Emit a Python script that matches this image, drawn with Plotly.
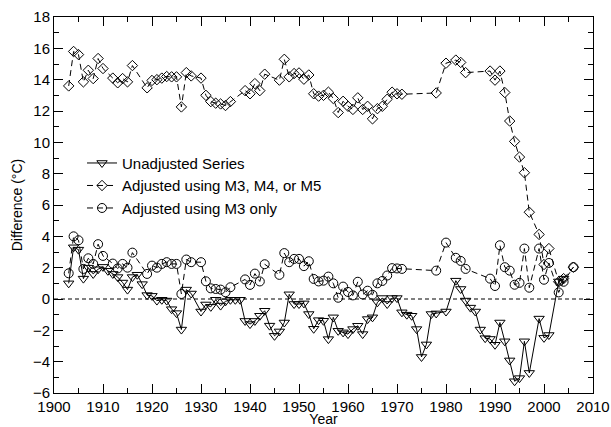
import plotly.graph_objects as go

# Unadjusted series
unadj_year = [1903, 1904, 1905, 1906, 1907, 1908, 1909, 1910, 1911, 1912, 1913, 1914, 1915,
              1916, 1917, 1918, 1919, 1920, 1921, 1922, 1923, 1924, 1925, 1926, 1927, 1928,
              1930, 1931, 1932, 1933, 1934, 1935, 1936, 1937, 1938, 1939, 1940, 1941, 1942,
              1943, 1944, 1945, 1946, 1947, 1948, 1949, 1950, 1951, 1952, 1953, 1954, 1955,
              1956, 1957, 1958, 1959, 1960, 1961, 1962, 1963, 1964, 1965, 1966, 1967, 1968,
              1969, 1970, 1971, 1972, 1973, 1974, 1975, 1976, 1977, 1978, 1980, 1982, 1983,
              1984, 1985, 1986, 1987, 1988, 1989, 1990, 1991, 1992, 1993, 1994, 1995, 1996,
              1997, 1999, 2000, 2001, 2003, 2004]
unadj_val = [1.0, 3.3, 3.15, 1.3, 2.0, 1.6, 1.9, 2.05, 1.8, 1.6, 1.4, 1.05, 0.6,
             1.4, 1.55, 0.95, 0.25, 0.2, -0.1, -0.05, -0.1, -0.65, -0.9, -1.95, 0.6, 0.35,
             -0.8, -0.35, -0.5, -0.05, -0.42, -0.15, -0.05, -0.05, -0.05, -1.4, -1.6, -1.4, -1.07,
             -0.75, -1.7, -2.35, -2.07, -1.5, 0.3, -0.32, -0.32, -0.28, -0.96, -1.9, -1.35, -1.39,
             -2.56, -1.17, -2.03, -2.13, -2.24, -1.92, -1.71, -2.24, -1.28, -1.17, -0.21, 0.06, -0.32,
             0.06, 0.06, -0.85, -1.0, -1.07, -1.92, -3.7, -2.9, -0.96, -0.92, -0.8, 1.17, 0.64,
             -0.1, -0.55, -0.8, -1.95, -2.5, -2.55, -2.92, -1.5, -2.7, -3.92, -5.25, -5.05, -2.7,
             -4.72, -1.25, -2.48, -2.3, 1.12, 1.3]

# Adjusted series (both adjustments share the same years)
adj_year = [1903, 1904, 1905, 1906, 1907, 1908, 1909, 1910, 1912, 1913, 1914, 1915, 1916,
            1919, 1920, 1921, 1922, 1923, 1924, 1925, 1926, 1927, 1928,
            1930, 1931, 1932, 1933, 1934, 1935, 1936,
            1939, 1940, 1941, 1942, 1943, 1946, 1947, 1948, 1949, 1950, 1951, 1952, 1953,
            1954, 1955, 1956, 1957, 1958, 1959, 1960, 1961, 1962, 1963, 1964, 1965, 1966,
            1967, 1968, 1969, 1970, 1971, 1978, 1980, 1982, 1983, 1984, 1989, 1990, 1991,
            1992, 1993, 1994, 1995, 1996, 1997, 1999, 2000, 2001, 2003, 2004, 2006]
adj_m345 = [13.6, 15.8, 15.6, 13.86, 14.6, 14.07, 15.35, 14.71, 14.1, 13.8, 14.07, 13.86, 14.9,
            13.48, 13.95, 14.0, 14.1, 14.2, 14.18, 14.18, 12.26, 14.45, 14.24,
            14.1, 13.0, 12.6, 12.5, 12.45, 12.35, 12.6,
            13.3, 13.1, 13.75, 13.3, 14.35, 13.97, 15.3, 14.18, 14.39, 14.43, 14.03, 14.3, 13.1,
            12.95, 13.0, 13.2, 12.8, 11.9, 12.62, 12.3, 12.1, 12.84, 12.1, 12.3, 11.5, 12.15,
            12.3, 12.75, 13.2, 13.1, 13.07, 13.15, 15.05, 15.25, 15.1, 14.45, 14.55, 13.97, 14.55,
            13.18, 11.36, 10.06, 9.06, 8.06, 5.54, 4.12, 2.2, 3.22, 1.1, 1.3, 2.03]
adj_m3 = [1.64, 4.0, 3.75, 1.92, 2.6, 2.24, 3.5, 2.75, 2.26, 1.95, 2.24, 2.0, 2.96,
          1.6, 2.13, 2.0, 2.24, 2.35, 2.24, 2.24, 0.32, 2.52, 2.35,
          2.35, 1.13, 0.68, 0.64, 0.6, 0.43, 0.75,
          1.25, 0.9, 1.62, 1.12, 2.22, 1.54, 2.93, 2.35, 2.56, 2.56, 2.1, 2.41, 1.28,
          1.12, 1.17, 1.43, 1.0, 0.08, 0.79, 0.45, 0.23, 1.1, 0.29, 0.53, 0.27, 1.0,
          1.15, 1.5, 1.97, 1.95, 1.92, 1.81, 3.6, 2.63, 2.43, 1.92, 1.3, 0.83, 3.43,
          2.03, 1.81, 0.91, 1.03, 3.22, 0.72, 3.22, 1.23, 2.3, 0.42, 1.1, 2.03]

FONT = "Liberation Sans, Arial, sans-serif"

fig = go.Figure()

fig.add_trace(go.Scatter(
    x=unadj_year, y=unadj_val, mode="lines+markers", name="Unadjusted Series",
    line=dict(color="black", width=1),
    marker=dict(symbol="triangle-down-open", size=9, color="black", line=dict(width=1)),
))
fig.add_trace(go.Scatter(
    x=adj_year, y=adj_m345, mode="lines+markers", name="Adjusted using M3, M4, or M5",
    line=dict(color="black", width=1, dash="6px,4px"),
    marker=dict(symbol="diamond-open", size=8, color="black", line=dict(width=1)),
))
fig.add_trace(go.Scatter(
    x=adj_year, y=adj_m3, mode="lines+markers", name="Adjusted using M3 only",
    line=dict(color="black", width=1, dash="6px,4px"),
    marker=dict(symbol="circle-open", size=9, color="black", line=dict(width=1)),
))

# zero reference line
fig.add_shape(type="line", xref="paper", x0=0, x1=1, yref="y", y0=0, y1=0,
              line=dict(color="black", width=1, dash="4px,3px"), layer="below")

axis_common = dict(
    showline=True, linecolor="black", linewidth=1, mirror="ticks",
    ticks="inside", ticklen=9, tickcolor="black", tickwidth=1,
    showgrid=False, zeroline=False, automargin=False,
    tickfont=dict(family=FONT, size=15, color="black"),
)

fig.update_xaxes(
    range=[1900, 2010], dtick=10, tick0=1900,
    minor=dict(ticks="inside", ticklen=5, dtick=5, tickcolor="black", showgrid=False),
    title=dict(text="Year", font=dict(family=FONT, size=14, color="black"), standoff=0),
    **axis_common,
)
fig.update_yaxes(
    range=[-6, 18], dtick=2, tick0=-6,
    minor=dict(ticks="inside", ticklen=5, dtick=1, tickcolor="black", showgrid=False),
    title=dict(text="Difference (°C)", font=dict(family=FONT, size=14, color="black"), standoff=6),
    **axis_common,
)

fig.update_layout(
    width=611, height=427,
    margin=dict(l=54, r=18, t=17, b=34),
    paper_bgcolor="white", plot_bgcolor="white",
    font=dict(family=FONT, color="black"),
    legend=dict(x=0.052, y=0.655, xanchor="left", yanchor="top",
                bgcolor="rgba(0,0,0,0)", font=dict(family=FONT, size=15, color="black"),
                tracegroupgap=0, itemwidth=30),
)

fig.write_html("out.html")
